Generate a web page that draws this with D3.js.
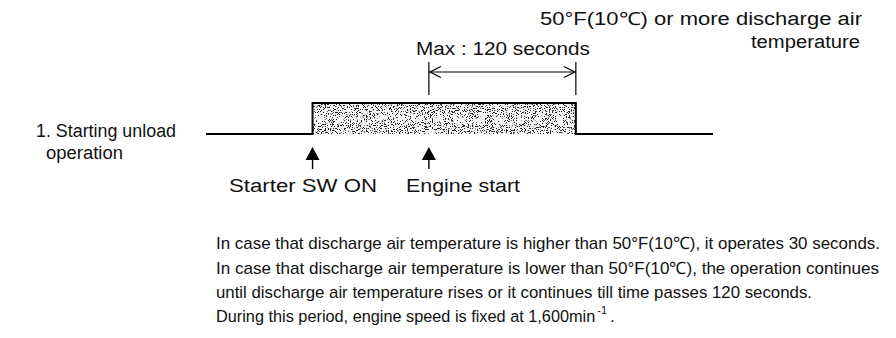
<!DOCTYPE html>
<html><head><meta charset="utf-8">
<script src="https://cdnjs.cloudflare.com/ajax/libs/d3/7.8.5/d3.min.js"></script>
<style>
html,body{margin:0;padding:0;background:#fff;}
svg text{font-family:"Liberation Sans",Arial,Helvetica,sans-serif;fill:#111;}
</style></head><body>
<svg id="c" width="896" height="338"></svg>
<script>
// ---- data ----
const stepTimes  = [-87, 0, 0, 215, 215, 327];   // seconds relative to Starter SW ON
const stepLevels = [0, 0, 1, 1, 0, 0];           // 0 = off, 1 = unload operation
const eventNames = ["Starter SW ON", "Engine start"];
const eventTimes = [0, 95];
const maxSpan    = [95, 215];                    // Max: 120 seconds
const maxLabel   = "Max : 120 seconds";
const rowLabel   = ["1. Starting unload", "operation"];
const condLabel  = ["50°F(10℃) or more discharge air", "temperature"];
const notes = [
  "In case that discharge air temperature is higher than 50°F(10℃), it operates 30 seconds.",
  "In case that discharge air temperature is lower than 50°F(10℃), the operation continues",
  "until discharge air temperature rises or it continues till time passes 120 seconds.",
  "During this period, engine speed is fixed at 1,600min"
];
const unitSup = "-1";

const svg = d3.select("#c");
const x = d3.scaleLinear().domain([-87, 327]).range([206, 713]);
const y = d3.scaleLinear().domain([0, 1]).range([134, 103]);

// fit a text element to a target width (stretching glyphs slightly)
function fit(t, w){
  t.attr("textLength", w).attr("lengthAdjust","spacingAndGlyphs");
  return t;
}

// speckle texture
const defs = svg.append("defs");
const f = defs.append("filter").attr("id","speckle").attr("x",0).attr("y",0).attr("width","100%").attr("height","100%");
f.append("feTurbulence").attr("type","fractalNoise").attr("baseFrequency",0.95).attr("numOctaves",3).attr("seed",11).attr("result","n");
f.append("feColorMatrix").attr("in","n").attr("type","matrix")
 .attr("values","0 0 0 0 0  0 0 0 0 0  0 0 0 0 0  -14 0 0 0 6.0").attr("result","a");
f.append("feComponentTransfer").attr("in","a").append("feFuncA").attr("type","discrete").attr("tableValues","0 0.35 0.6 0.85");

const pts = stepTimes.map((t,i)=>[x(t), y(stepLevels[i])]);
const area = d3.area().x(d=>d[0]).y0(y(0)).y1(d=>d[1]);
svg.append("path").attr("d", area(pts.slice(2,4))).attr("fill","#f4f4f4");
svg.append("rect").attr("x",x(0)+1).attr("y",y(1)+1).attr("width",x(215)-x(0)-2).attr("height",y(0)-y(1)-1)
  .attr("fill","#333").attr("filter","url(#speckle)");
svg.append("path").attr("d", d3.line()(pts)).attr("fill","none").attr("stroke","#000").attr("stroke-width",2);

// event arrows
eventTimes.forEach((t,i)=>{
  const cx = x(t);
  svg.append("path").attr("d",`M${cx},147 L${cx-7},160 L${cx+7},160 Z`).attr("fill","#000");
  svg.append("line").attr("x1",cx).attr("x2",cx).attr("y1",159).attr("y2",169).attr("stroke","#000").attr("stroke-width",1.4);
});
fit(svg.append("text").attr("x",229).attr("y",192).attr("font-size",18).text(eventNames[0]), 148);
fit(svg.append("text").attr("x",406).attr("y",192).attr("font-size",18).text(eventNames[1]), 114);

// dimension
const x1 = x(maxSpan[0]), x2 = x(maxSpan[1]);
[x1,x2].forEach(v=>svg.append("line").attr("x1",v).attr("x2",v).attr("y1",62).attr("y2",95).attr("stroke","#000").attr("stroke-width",1.2));
svg.append("line").attr("x1",x1).attr("x2",x2).attr("y1",72).attr("y2",72).attr("stroke","#000").attr("stroke-width",1.2);
svg.append("path").attr("d",`M${x1+12},66.5 L${x1+1},72 L${x1+12},77.5`).attr("fill","none").attr("stroke","#000").attr("stroke-width",1.2);
svg.append("path").attr("d",`M${x2-12},66.5 L${x2-1},72 L${x2-12},77.5`).attr("fill","none").attr("stroke","#000").attr("stroke-width",1.2);
fit(svg.append("text").attr("x",416).attr("y",55).attr("font-size",18).text(maxLabel), 174);

// condition label
fit(svg.append("text").attr("x",540).attr("y",25).attr("font-size",18).text(condLabel[0]), 322);
fit(svg.append("text").attr("x",751).attr("y",48).attr("font-size",18).text(condLabel[1]), 109);

// row label
fit(svg.append("text").attr("x",36).attr("y",137).attr("font-size",18).text(rowLabel[0]), 140);
fit(svg.append("text").attr("x",46).attr("y",159).attr("font-size",18).text(rowLabel[1]), 77);

// notes
const ny = [249, 274, 298, 322];
const nw = [664, 663, 596];
let last;
notes.forEach((s,i)=>{
  const t = svg.append("text").attr("x",216).attr("y",ny[i]).attr("font-size", i < 3 ? 17 : 16.3).text(s);
  if(i < 3) fit(t, nw[i]); else last = t;
});
const e1 = last.node().getBBox();
const sup = svg.append("text").attr("x",e1.x+e1.width+2).attr("y",ny[3]-8).attr("font-size",11).text(unitSup);
const e2 = sup.node().getBBox();
svg.append("text").attr("x",e2.x+e2.width+3).attr("y",ny[3]).attr("font-size",17).text(".");
</script></body></html>
